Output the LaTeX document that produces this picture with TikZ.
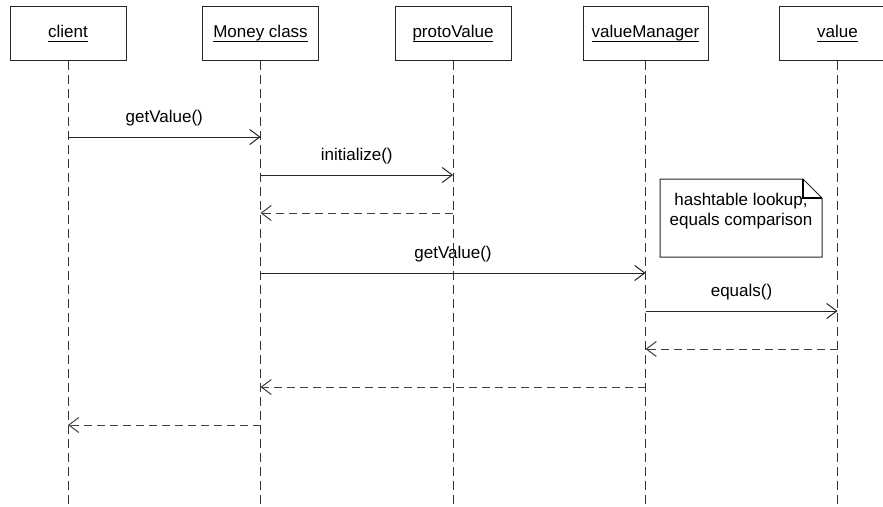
\documentclass[tikz,border=0pt]{standalone}
\usepackage{fontspec}
\setmainfont{Liberation Sans}
\usetikzlibrary{arrows.meta}
\newcommand\ulname[1]{\underline{\smash{#1}\vrule width 0pt height 0pt depth 2.5pt}}
\begin{document}
\begin{tikzpicture}[x=1pt,y=-1pt,
  obj/.style={draw=black!85,line width=1pt,minimum width=116pt,minimum height=54pt,inner sep=0pt,font=\fontsize{17}{20}\selectfont,fill=white,text height=12pt,text depth=3pt},
  life/.style={draw=black!80,line width=1pt,dash pattern=on 9pt off 5pt},
  call/.style={draw=black!85,line width=1pt,-{Straight Barb[length=10pt,width=15pt,line width=1pt]}},
  ret/.style={draw=black!75,line width=1pt,dash pattern=on 8pt off 5pt,-{Straight Barb[length=10pt,width=15pt,line width=1pt,sep=0pt]}},
  lbl/.style={font=\fontsize{17}{20}\selectfont,inner sep=0pt}]
\useasboundingbox (0,0) rectangle (883,506);
\fill[white] (0,0) rectangle (883,506);
% objects
\node[obj] (client) at (68,33) {\ulname{client}};
\node[obj] (money) at (260.5,33) {\ulname{Money class}};
\node[obj] (proto) at (453,33) {\ulname{protoValue}};
\node[obj,minimum width=125pt] (vm) at (645.5,33) {\ulname{valueManager}};
\node[obj] (val) at (837.5,33) {\ulname{value}};
% lifeline ends
\coordinate (clientE) at (68,506);
\coordinate (moneyE) at (260.5,506);
\coordinate (protoE) at (453,506);
\coordinate (vmE) at (645.5,506);
\coordinate (valE) at (837.5,506);
\draw[life] (client.south) -- (clientE);
\draw[life] (money.south) -- (moneyE);
\draw[life] (proto.south) -- (protoE);
\draw[life] (vm.south) -- (vmE);
\draw[life] (val.south) -- (valE);
% message points
\coordinate (c1) at (68,137);  \coordinate (m1) at (260.5,137);
\coordinate (m2) at (260.5,175); \coordinate (p2) at (453,175);
\coordinate (p3) at (453,213); \coordinate (m3) at (260.5,213);
\coordinate (m4) at (260.5,273); \coordinate (v4) at (645.5,273);
\coordinate (v5) at (645.5,311); \coordinate (w5) at (837.5,311);
\coordinate (w6) at (837.5,349); \coordinate (v6) at (645.5,349);
\coordinate (v7) at (645.5,387); \coordinate (m7) at (260.5,387);
\coordinate (m8) at (260.5,425); \coordinate (c8) at (68,425);
% messages
\draw[call] (c1) -- node[lbl,above=10pt] (l1) {getValue()} (m1);
\draw[call] (m2) -- node[lbl,above=10pt] (l2) {initialize()} (p2);
\draw[ret] (p3) -- (m3);
\draw[call] (m4) -- node[lbl,above=10pt] (l4) {getValue()} (v4);
\draw[call] (v5) -- node[lbl,above=10pt] (l5) {equals()} (w5);
\draw[ret] (w6) -- (v6);
\draw[ret] (v7) -- (m7);
\draw[ret] (m8) -- (c8);
% note
\coordinate (n1) at (660,179);
\coordinate (n2) at (803,179);
\coordinate (n3) at (822,198);
\coordinate (n4) at (822,257);
\coordinate (n5) at (660,257);
\fill[white] (n1) -- (n2) -- (n3) -- (n4) -- (n5) -- cycle;
\draw[black!85,line width=1pt] (n1) -- (n2) -- (n3) -- (n4) -- (n5) -- cycle;
\draw[black,line width=1.2pt] (n2) |- (n3);
\node[lbl,align=center,font=\fontsize{17}{20}\selectfont] (note) at (741,211) {hashtable lookup,\\equals comparison};
\end{tikzpicture}
\end{document}
